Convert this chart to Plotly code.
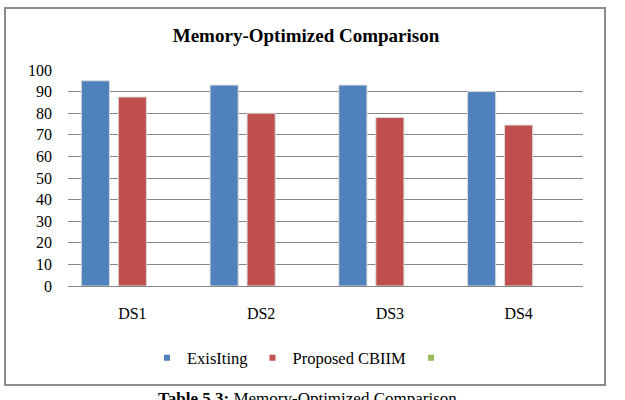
import plotly.graph_objects as go

categories = ["DS1", "DS2", "DS3", "DS4"]
existing = [95, 93, 93, 90]
proposed = [87.5, 80, 78, 74.5]
series3 = [None, None, None, None]
series_names = ["ExisIting", "Proposed CBIIM", " "]
colors = ["#4F81BD", "#C0504D", "#9BBB59"]
y_ticks = [0, 10, 20, 30, 40, 50, 60, 70, 80, 90, 100]

FONT = "Liberation Serif, Times New Roman, serif"

fig = go.Figure()
for vals, name, col in zip([existing, proposed, series3], series_names, colors):
    fig.add_trace(go.Bar(
        x=categories, y=vals, name=name, showlegend=False,
        marker=dict(color=col, line=dict(color="#d9d9d9", width=1)),
    ))
    fig.add_trace(go.Scatter(
        x=[None], y=[None], mode="markers", name=name,
        marker=dict(symbol="square", size=6, color=col),
    ))

L, R, T, B = 68, 42, 70, 114
W, H = 625, 400
pw, ph = W - L - R, H - T - B

def px_x(x):
    return (x - L) / pw

def px_y(y):
    return (H - B - y) / ph

fig.update_layout(
    width=W, height=H,
    margin=dict(l=L, r=R, t=T, b=B),
    paper_bgcolor="white", plot_bgcolor="white",
    font=dict(family=FONT, size=15, color="black"),
    barmode="group", bargap=0.138, bargroupgap=0.24,
    title=dict(text="<b>Memory-Optimized Comparison</b>",
               font=dict(family=FONT, size=19, color="black"),
               x=px_x(306), xref="paper", xanchor="center",
               y=1 - 35 / H, yanchor="middle"),
    xaxis=dict(showgrid=False, showline=False, ticks="",
               ticklabelstandoff=16,
               tickfont=dict(family=FONT, size=16)),
    yaxis=dict(range=[0, 100], tickvals=y_ticks, showgrid=True,
               gridcolor="#868686", gridwidth=1, zeroline=True,
               zerolinecolor="#868686", zerolinewidth=1, showline=False,
               ticks="", ticklabelstandoff=15,
               tickfont=dict(family=FONT, size=16)),
    legend=dict(orientation="h", x=px_x(304), xanchor="center",
                y=px_y(358), yanchor="middle",
                font=dict(family=FONT, size=16.5), itemwidth=30,
                bgcolor="rgba(0,0,0,0)"),
    shapes=[dict(type="rect", xref="paper", yref="paper",
                 x0=px_x(5), x1=px_x(605), y0=px_y(385), y1=px_y(8),
                 line=dict(color="#8c8c8c", width=2), layer="below")],
    annotations=[dict(text="<b>Table 5.3:</b> Memory-Optimized Comparison",
                      xref="paper", yref="paper", x=px_x(307), y=px_y(387),
                      xanchor="center", yanchor="top", showarrow=False,
                      font=dict(family=FONT, size=17, color="black"))],
)

fig.write_html("out.html")
